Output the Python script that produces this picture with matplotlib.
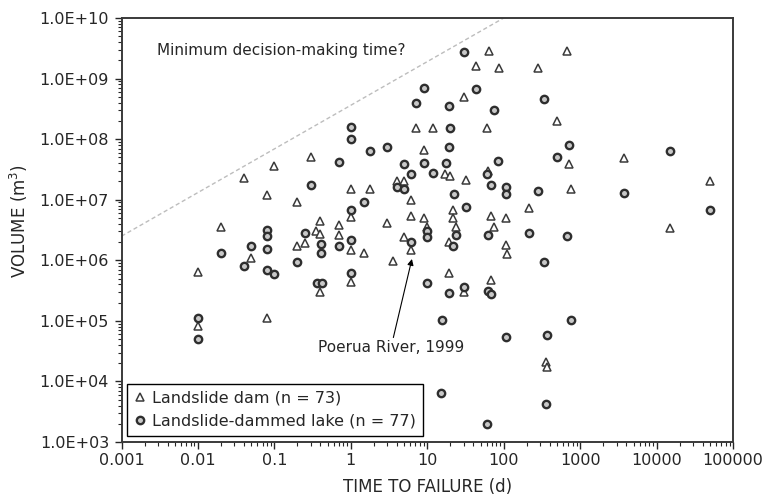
import matplotlib
matplotlib.use("Agg")
import matplotlib.pyplot as plt
from matplotlib.ticker import FuncFormatter, LogLocator, NullFormatter

# Landslide dam (triangles): time to failure (d), volume (m3)
dam_time = [0.01, 0.01, 0.02, 0.04, 0.05, 0.08, 0.08, 0.1, 0.2, 0.2,
            0.25, 0.3, 0.35, 0.4, 0.4, 0.4, 0.7, 0.7, 1.0, 1.0,
            1.0, 1.0, 1.5, 1.8, 3.0, 3.6, 4.0, 5.0, 5.0, 6.1,
            6.1, 6.2, 7.1, 9.1, 9.1, 12, 17, 20, 19, 19,
            22, 22, 24, 30, 32, 30, 43, 60, 63, 64,
            68, 68, 75, 86, 108, 107, 109, 214, 277, 357,
            367, 500, 667, 715, 752, 3785, 15000, 50000, 10]
dam_volume = [6.5e5, 8.3e4, 3.6e6, 2.3e7, 1.1e6, 1.2e7, 1.1e5, 3.6e7, 9.0e6, 1.7e6,
              1.9e6, 5.0e7, 3.0e6, 2.7e6, 4.4e6, 3.0e5, 3.8e6, 2.6e6, 1.5e7, 5.2e6,
              1.5e6, 4.4e5, 1.3e6, 1.5e7, 4.1e6, 9.8e5, 2.0e7, 2.0e7, 2.45e6, 9.9e6,
              5.4e6, 1.46e6, 1.5e8, 6.7e7, 4.9e6, 1.5e8, 2.65e7, 2.5e7, 1.97e6, 6.2e5,
              6.8e6, 4.9e6, 3.6e6, 5.0e8, 2.1e7, 3.05e5, 1.6e9, 1.5e8, 3.0e7, 2.8e9,
              5.3e6, 4.7e5, 3.6e6, 1.5e9, 4.9e6, 1.8e6, 1.25e6, 7.2e6, 1.5e9, 2.1e4,
              1.7e4, 2.0e8, 2.8e9, 3.85e7, 1.49e7, 4.8e7, 3.4e6, 2.0e7, 3.6e6]

# Landslide-dammed lake (circles)
lake_time = [0.01, 0.01, 0.02, 0.04, 0.05, 0.08, 0.08, 0.08, 0.08, 0.1,
             0.2, 0.25, 0.3, 0.36, 0.42, 0.41, 0.41, 0.7, 0.7, 1.0,
             1.0, 1.0, 1.0, 1.0, 1.5, 1.8, 3.0, 4.0, 5.0, 5.0,
             6.1, 6.2, 7.1, 9.1, 9.1, 10, 10, 10, 12, 15,
             15.7, 17.5, 19.3, 19.3, 19.4, 20, 22, 22.3, 24, 30,
             30, 32, 43, 60, 63, 61, 63, 68, 68, 75,
             85, 107, 108, 108, 214, 277, 337, 337, 357, 364,
             493, 667, 715, 752, 3785, 15000, 50000]
lake_volume = [1.1e5, 5.0e4, 1.34e6, 8.0e5, 1.72e6, 3.2e6, 2.5e6, 1.56e6, 6.9e5, 5.9e5,
               9.5e5, 2.8e6, 1.74e7, 4.2e5, 4.2e5, 1.86e6, 1.34e6, 4.2e7, 1.7e6, 1.57e8,
               1.0e8, 6.8e6, 2.2e6, 6.2e5, 9.2e6, 6.4e7, 7.5e7, 1.64e7, 3.9e7, 1.53e7,
               2.65e7, 2.0e6, 4.0e8, 6.9e8, 4.1e7, 3.0e6, 2.4e6, 4.2e5, 2.8e7, 6.4e3,
               1.03e5, 4.1e7, 3.5e8, 7.5e7, 2.9e5, 1.5e8, 1.72e6, 1.23e7, 2.6e6, 2.7e9,
               3.6e5, 7.7e6, 6.7e8, 2.65e7, 2.6e6, 2.0e3, 3.1e5, 2.8e5, 1.75e7, 3.0e8,
               4.4e7, 5.5e4, 1.64e7, 1.23e7, 2.8e6, 1.41e7, 4.6e8, 9.4e5, 4.2e3, 5.8e4,
               5.1e7, 2.5e6, 8.0e7, 1.03e5, 1.31e7, 6.4e7, 6.8e6]

# "Minimum decision-making time?" line
limit_time = [0.001, 100]
limit_volume = [2.5e6, 1.0e10]

# Poerua River, 1999
poerua_point = (6.3, 1.05e6)
poerua_tail = (3.6, 5.3e4)
poerua_text = (0.37, 3.6e4)

DAM_LABEL = "Landslide dam (n = 73)"
LAKE_LABEL = "Landslide-dammed lake (n = 77)"
X_LABEL = "TIME TO FAILURE (d)"
Y_LABEL = "VOLUME (m$^3$)"
LIMIT_TEXT = "Minimum decision-making time?"
POERUA_TEXT = "Poerua River, 1999"

INK = "#262626"
FONT_SIZE = 11
TICK_SIZE = 11.5


def main():
    plt.rcParams["font.family"] = "DejaVu Sans"
    fig = plt.figure(figsize=(7.72, 5.01), dpi=100)
    ax = fig.add_axes([0.1574, 0.1178, 0.7921, 0.8463])

    ax.plot(limit_time, limit_volume, color="#bdbdbd", lw=1.0,
            linestyle=(0, (3, 2)), zorder=1)

    ax.plot(dam_time, dam_volume, linestyle="none", marker="^", ms=5.3,
            mfc="white", mec="#3a3a3a", mew=1.1, label=DAM_LABEL, zorder=3)
    ax.plot(lake_time, lake_volume, linestyle="none", marker="o", ms=5.3,
            mfc="#c8c8c8", mec="#2e2e2e", mew=1.7, label=LAKE_LABEL, zorder=3)

    ax.set_xscale("log")
    ax.set_yscale("log")
    ax.set_xlim(0.001, 100000)
    ax.set_ylim(1e3, 1e10)

    ax.xaxis.set_major_locator(LogLocator(base=10, numticks=20))
    ax.yaxis.set_major_locator(LogLocator(base=10, numticks=20))
    ax.xaxis.set_minor_locator(LogLocator(base=10, subs=range(2, 10), numticks=20))
    ax.yaxis.set_minor_locator(LogLocator(base=10, subs=range(2, 10), numticks=20))
    ax.xaxis.set_minor_formatter(NullFormatter())
    ax.yaxis.set_minor_formatter(NullFormatter())
    ax.xaxis.set_major_formatter(FuncFormatter(lambda v, p: f"{v:g}"))
    ax.yaxis.set_major_formatter(FuncFormatter(lambda v, p: f"{v:.1E}"))

    ax.tick_params(which="major", direction="out", length=5, width=1.0,
                   color=INK, labelcolor=INK, labelsize=TICK_SIZE, pad=3)
    ax.tick_params(axis="y", which="major", pad=4)
    ax.tick_params(which="minor", direction="out", length=3, width=0.8, color=INK)
    for spine in ax.spines.values():
        spine.set_color("#3a3a3a")
        spine.set_linewidth(1.4)

    ax.set_xlabel(X_LABEL, fontsize=FONT_SIZE + 1, color=INK)
    ax.set_ylabel(Y_LABEL, fontsize=FONT_SIZE + 1, color=INK)
    ax.xaxis.set_label_coords(0.5, -0.086)
    ax.yaxis.set_label_coords(-0.15, 0.52)

    ax.text(0.0029, 2.95e9, LIMIT_TEXT, fontsize=FONT_SIZE, color=INK, va="center")

    ax.text(poerua_text[0], poerua_text[1], POERUA_TEXT, fontsize=FONT_SIZE,
            color=INK, va="center")
    ax.annotate("", xy=poerua_point, xytext=poerua_tail,
                arrowprops=dict(arrowstyle="-|>", color="black", lw=0.8,
                                mutation_scale=9, shrinkA=0, shrinkB=0))

    leg = ax.legend(loc="lower left", bbox_to_anchor=(0.009, 0.014),
                    borderaxespad=0, fancybox=False, framealpha=1,
                    edgecolor="black", fontsize=TICK_SIZE, handlelength=0.7,
                    handletextpad=0.4, labelspacing=0.5, borderpad=0.45,
                    numpoints=1)
    leg.get_frame().set_linewidth(1.0)
    for text in leg.get_texts():
        text.set_color(INK)

    fig.savefig("out.png", dpi=100)


if __name__ == "__main__":
    main()
